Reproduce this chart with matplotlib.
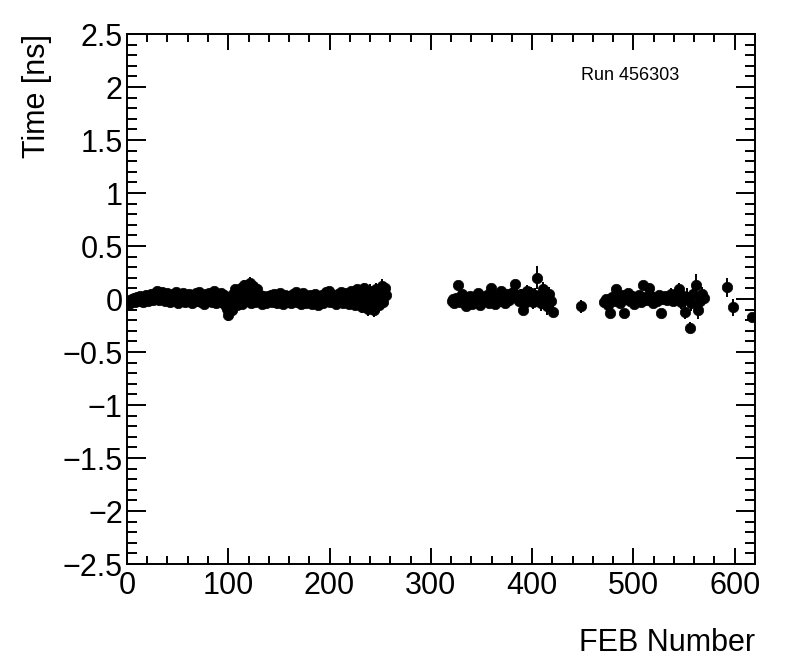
import numpy as np
import matplotlib
matplotlib.use("Agg")
import matplotlib.pyplot as plt

##################################################################
# FEB timing offsets, run 456303
##################################################################
# first block : FEB 0 .. 256, every FEB
y1 = [-0.04,-0.02,-0.05,-0.01,-0.03,0.00,-0.02,0.01,-0.03,-0.01,0.02,-0.02,0.00,0.03,-0.01,0.01,-0.03,0.02,0.00,0.04,
      0.01,-0.02,0.03,0.00,0.05,0.02,-0.01,0.04,0.06,0.01,0.08,0.03,-0.01,0.05,0.02,0.07,0.00,0.04,-0.02,0.03,
      0.06,0.01,-0.03,0.04,0.02,0.05,-0.01,0.03,0.07,0.00,-0.04,0.02,0.05,-0.02,0.01,0.06,0.03,-0.03,0.00,0.04,
      0.02,0.05,-0.01,0.03,-0.04,0.01,0.04,0.00,0.06,-0.02,0.03,0.07,0.01,-0.03,0.04,0.02,-0.05,0.00,0.05,0.03,
      -0.02,0.06,0.01,0.04,-0.03,0.02,0.08,0.00,-0.04,0.03,0.05,-0.01,0.02,0.06,-0.03,0.01,0.04,-0.06,0.00,-0.09,
      -0.15,-0.08,-0.03,0.02,-0.10,0.05,-0.04,0.09,0.00,-0.06,0.03,0.07,-0.02,0.10,-0.05,0.04,0.13,-0.01,0.06,0.11,
      0.02,0.15,-0.04,0.08,0.12,0.00,-0.03,0.05,0.09,0.01,-0.02,0.04,0.00,-0.05,0.03,-0.01,0.02,-0.04,0.01,0.03,
      -0.02,0.00,0.04,-0.03,0.02,0.05,-0.01,0.01,-0.04,0.03,0.00,0.06,-0.02,0.02,-0.05,0.01,0.04,-0.01,0.02,-0.03,
      0.03,0.00,-0.04,0.02,0.05,-0.02,0.01,0.07,-0.03,0.00,0.04,0.02,-0.05,0.01,0.06,-0.01,0.03,-0.04,0.00,0.02,
      -0.02,0.04,0.01,-0.05,0.02,0.00,0.05,-0.03,0.01,-0.06,0.03,0.00,-0.02,0.04,-0.04,0.01,0.07,-0.01,0.02,0.08,
      -0.03,0.01,0.04,-0.02,0.00,0.03,-0.05,0.02,0.05,-0.01,0.03,0.07,0.00,-0.04,0.02,0.06,-0.02,0.04,0.01,-0.05,
      0.03,0.08,-0.01,0.05,0.02,-0.06,0.04,0.09,0.00,-0.03,0.06,0.02,-0.08,0.05,0.10,-0.02,0.03,0.07,-0.09,0.04,
      0.08,-0.04,0.02,0.06,-0.10,0.03,0.09,-0.01,0.05,-0.06,0.07,0.02,0.12,-0.03,0.06,0.10,0.04]
x1 = list(range(len(y1)))
# typical error, with the larger ones listed by FEB
err1_base = 0.025
err1_big = {97:0.04, 100:0.06, 104:0.05, 107:0.04, 113:0.05, 116:0.05, 119:0.05, 121:0.06,
            124:0.05, 227:0.04, 232:0.05, 234:0.05, 238:0.07, 240:0.06, 244:0.07, 246:0.06,
            249:0.06, 252:0.07, 255:0.06}

# second block : FEB 321 .. 421
x2 = [321,322,323,325,327,329,330,331,333,335,337,338,339,341,343,345,346,347,349,351,
      353,354,355,357,359,361,362,363,365,367,369,370,371,373,375,377,378,379,381,383,
      385,386,387,389,391,393,394,395,397,399,401,402,403,405,407,409,410,411,413,415,
      417,419,421]
y2 = [-0.02,0.00,-0.04,0.01,0.13,-0.03,-0.01,0.05,0.00,-0.07,-0.02,0.01,0.03,-0.05,0.01,-0.03,-0.02,0.06,-0.06,0.02,
      -0.01,0.00,0.04,-0.04,0.10,0.00,0.02,-0.05,0.03,-0.02,0.08,-0.01,0.01,-0.04,0.05,-0.01,0.04,0.02,0.07,0.14,
      0.03,0.01,-0.02,0.05,-0.10,0.02,-0.03,0.08,0.00,0.06,-0.03,0.03,0.04,0.20,0.02,-0.04,0.00,0.09,0.03,-0.07,
      0.05,-0.02,-0.12]
e2 = [0.03,0.03,0.03,0.03,0.03,0.03,0.03,0.03,0.03,0.03,0.03,0.03,0.03,0.03,0.03,0.03,0.03,0.03,0.03,0.03,
      0.03,0.03,0.03,0.03,0.03,0.03,0.03,0.03,0.03,0.03,0.03,0.03,0.03,0.03,0.03,0.04,0.04,0.04,0.04,0.04,
      0.04,0.04,0.04,0.04,0.04,0.05,0.05,0.05,0.05,0.05,0.06,0.05,0.06,0.11,0.06,0.07,0.05,0.07,0.07,0.08,
      0.06,0.06,0.05]

# third block : FEB 448, 471 .. 569 and a few at the end
x3 = [448,471,473,475,477,479,481,483,485,487,489,491,493,495,497,499,501,503,505,507,
      509,511,513,515,517,519,521,523,525,527,529,531,533,535,537,539,541,543,545,547,
      549,551,553,556,557,559,562,564,566,568,570,592,598,617]
y3 = [-0.07,-0.03,0.00,-0.06,-0.13,0.02,-0.02,0.09,0.01,-0.04,0.04,-0.13,0.00,0.06,-0.02,0.03,-0.05,0.01,0.04,-0.03,
      0.13,0.02,-0.01,0.10,0.03,-0.04,0.01,-0.02,0.04,-0.13,0.00,0.03,-0.01,0.02,0.05,-0.02,0.04,0.01,0.09,-0.03,
      0.03,-0.12,0.02,-0.27,-0.04,0.05,0.13,-0.10,-0.02,0.05,0.01,0.11,-0.08,-0.17]
e3 = [0.06,0.03,0.03,0.03,0.03,0.03,0.03,0.03,0.03,0.03,0.03,0.03,0.03,0.03,0.03,0.03,0.03,0.03,0.03,0.04,
      0.04,0.04,0.04,0.04,0.04,0.04,0.04,0.04,0.04,0.04,0.04,0.04,0.05,0.05,0.05,0.05,0.05,0.06,0.06,0.06,
      0.07,0.07,0.08,0.05,0.07,0.09,0.11,0.09,0.09,0.06,0.06,0.09,0.08,0.04]

run_label = "Run 456303"

##################################################################
e1 = [err1_big.get(i, err1_base) for i in x1]
xs = x1 + x2 + x3
ys = y1 + y2 + y3
es = e1 + e2 + e3

plt.rcParams['font.family'] = ['Liberation Sans', 'DejaVu Sans']

fig = plt.figure(figsize=(7.96, 6.72), dpi=100)
ax = fig.add_axes([0.1595, 0.1607, 0.789, 0.7887])

ax.errorbar(xs, ys, yerr=es, fmt='o', color='black', markersize=7.5,
            elinewidth=1.4, capsize=0, markeredgewidth=0.5)

ax.set_xlim(0, 620)
ax.set_ylim(-2.5, 2.5)
ax.set_xticks(np.arange(0, 601, 100))
ax.set_xticks(np.arange(0, 621, 20), minor=True)
yt = np.arange(-2.5, 2.51, 0.5)
ax.set_yticks(yt)
ax.set_yticks(np.arange(-2.5, 2.51, 0.1), minor=True)
ax.set_yticklabels([("%g" % v).replace("-", "\u2212") for v in yt])

for s in ax.spines.values():
  s.set_linewidth(1.4)

ax.tick_params(axis='both', which='both', direction='in', top=True, right=True,
               width=1.4, labelsize=22)
ax.tick_params(axis='x', which='major', length=11.5, pad=5)
ax.tick_params(axis='x', which='minor', length=5.8)
ax.tick_params(axis='y', which='major', length=13.7, pad=3)
ax.tick_params(axis='y', which='minor', length=7)

ax.set_xlabel("FEB Number", fontsize=22, loc='right')
ax.xaxis.set_label_coords(1.0, -0.12)
ax.set_ylabel("Time [ns]", fontsize=22, loc='top')
ax.yaxis.set_label_coords(-0.12, 1.0)

ax.text(0.723, 0.913, run_label, transform=ax.transAxes, fontsize=13)

fig.savefig("out.png", dpi=100)
